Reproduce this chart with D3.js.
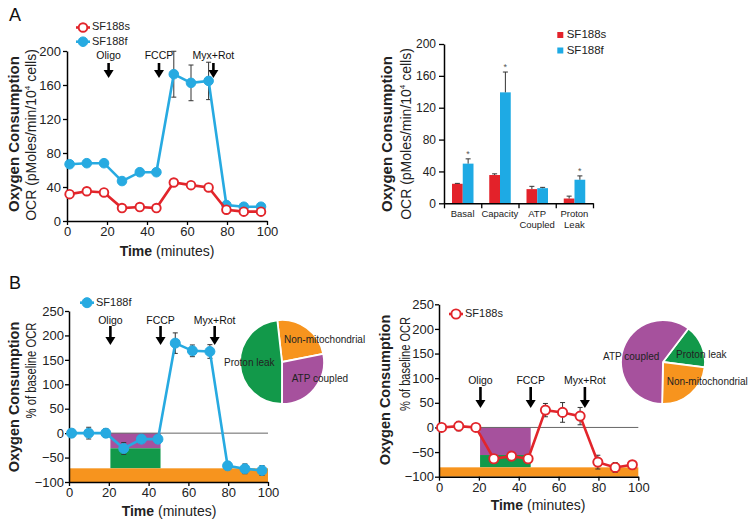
<!DOCTYPE html>
<html><head><meta charset="utf-8">
<script src="https://cdn.jsdelivr.net/npm/d3@7"></script>
<style>body{margin:0;background:#fff} svg{display:block}</style>
</head><body><svg id="c" width="754" height="526"></svg>
<script>
// ---------- DATA ----------
const times = [1.3, 9.9, 18.5, 27.5, 36.4, 44.7, 53.4, 62, 70.8, 79.7, 88.4, 97];
const xTicks = [0, 20, 40, 60, 80, 100];
const yTicksA = [0, 40, 80, 120, 160, 200];
const yTicksB = [-100, -50, 0, 50, 100, 150, 200, 250];
const seriesNames = ["SF188s", "SF188f"];
const ocrF = [66.8, 68, 68, 47, 57.4, 57.4, 172.7, 162.5, 164.8, 18.8, 16.8, 16.8];
const ocrFErr = [2, 2, 2, 2, 2, 2, 27, 21, 22, 2, 2, 2];
const ocrS = [31.6, 35, 33.6, 15.2, 16.4, 15.2, 45.3, 42.2, 39.5, 13.3, 11, 11];
const ocrSErr = [2, 2, 2, 2, 2, 2, 2, 2, 2, 2, 2, 2];
const injTimes = [20.8, 46, 73.2];
const injLabels = ["Oligo", "FCCP", "Myx+Rot"];
const barCats = ["Basal", "Capacity", "ATP Coupled", "Proton Leak"];
const barCatLines = [["Basal"], ["Capacity"], ["ATP", "Coupled"], ["Proton", "Leak"]];
const barS = [24.5, 35.5, 17.8, 6];
const barSErr = [0.5, 1.5, 3.5, 3];
const barF = [49.8, 139.3, 19, 29.6];
const barFErr = [6, 25.5, 1, 4.8];
const barStar = [true, true, false, true];
const pctF = [0, 0, 0, -31.4, -12.3, -12.3, 184.2, 168.5, 167.1, -66.9, -73, -76.4];
const pctFErr = [8, 12, 9, 12, 8, 8, 21, 12, 14, 8, 10, 10];
const pctS = [0, 2.7, 0, -63.6, -58.2, -63.6, 35.2, 30.5, 23, -70.4, -81.2, -75.8];
const pctSErr = [4, 9.5, 5, 8, 7, 6, 13.5, 20, 17.6, 14, 10, 8];
const bandLabels = ["ATP coupled", "Proton leak", "Non-mitochondrial"];
const bandsF = [[20.8, 46, 0, -31], [20.8, 46, -31, -72], [0, 100, -72, -100]];
const bandsS = [[20.6, 46, 0, -56], [20.6, 46, -56, -81], [0, 100, -81, -100]];
const pieLabelsF = ["Non-mitochondrial", "ATP coupled", "Proton leak"];
const pieValsF = [23.7, 28.1, 48.2];
const pieLabelsS = ["Proton leak", "Non-mitochondrial", "ATP coupled"];
const pieValsS = [16.7, 23.3, 60];

// ---------- STYLE ----------
const FONT = '"Liberation Sans", Arial, Helvetica, sans-serif';
const BLUE = "#27aae1", RED = "#e2252b", BARRED = "#e3222a", BARBLUE = "#1eaae4";
const segColor = {"ATP coupled": "#a6519d", "Proton leak": "#12994a", "Non-mitochondrial": "#f7941e"};
const svg = d3.select("#c");

function styleAxis(g, fs) {
  g.attr("font-family", FONT).attr("font-size", fs);
  g.select(".domain").attr("stroke", "#000").attr("stroke-width", 1.5);
  g.selectAll(".tick line").attr("stroke", "#000").attr("stroke-width", 1.3);
  g.selectAll(".tick text").attr("fill", "#222");
}
function vText(x, y, str, fs, bold, len) {
  const t = svg.append("text").attr("x", x).attr("y", y)
    .attr("transform", `rotate(-90,${x},${y})`).attr("text-anchor", "middle")
    .attr("font-family", FONT).attr("font-size", fs).attr("fill", "#222")
    .attr("font-weight", bold ? "bold" : "normal").text(str);
  if (len) t.attr("textLength", len).attr("lengthAdjust", "spacingAndGlyphs");
  return t;
}
function timeLabel(cx, cy) {
  const t = svg.append("text").attr("x", cx).attr("y", cy).attr("text-anchor", "middle")
    .attr("dominant-baseline", "middle").attr("font-family", FONT).attr("font-size", 14).attr("fill", "#222");
  t.append("tspan").attr("font-weight", "bold").text("Time");
  t.append("tspan").text(" (minutes)");
}
function arrows(x, labelY, y0, y1) {
  injTimes.forEach((t, i) => {
    const ax = x(t);
    svg.append("text").attr("x", ax).attr("y", labelY).attr("text-anchor", "middle")
      .attr("dominant-baseline", "middle").attr("font-family", FONT).attr("font-size", 10.5)
      .attr("fill", "#111").text(injLabels[i]);
    svg.append("line").attr("x1", ax).attr("x2", ax).attr("y1", y0).attr("y2", y1 - 6)
      .attr("stroke", "#000").attr("stroke-width", 2.6);
    svg.append("path").attr("d", `M${ax - 5},${y1 - 8}L${ax + 5},${y1 - 8}L${ax},${y1}Z`).attr("fill", "#000");
  });
}
function errBars(x, y, vals, errs, col) {
  const g = svg.append("g").attr("stroke", col).attr("stroke-width", 1);
  vals.forEach((v, i) => {
    const cx = x(times[i]);
    g.append("line").attr("x1", cx).attr("x2", cx).attr("y1", y(v - errs[i])).attr("y2", y(v + errs[i]));
    g.append("line").attr("x1", cx - 2.5).attr("x2", cx + 2.5).attr("y1", y(v + errs[i])).attr("y2", y(v + errs[i]));
    g.append("line").attr("x1", cx - 2.5).attr("x2", cx + 2.5).attr("y1", y(v - errs[i])).attr("y2", y(v - errs[i]));
  });
}
function series(x, y, vals, col, open, r) {
  const line = d3.line().x((d, i) => x(times[i])).y(d => y(d));
  svg.append("path").attr("d", line(vals)).attr("fill", "none").attr("stroke", col).attr("stroke-width", 2.6);
  svg.append("g").selectAll("circle").data(vals).join("circle")
    .attr("cx", (d, i) => x(times[i])).attr("cy", d => y(d)).attr("r", r)
    .attr("fill", open ? "#fff" : col).attr("stroke", col).attr("stroke-width", open ? 1.9 : 1);
}
function legendItem(x, y, name, col, open, r) {
  svg.append("line").attr("x1", x - 7).attr("x2", x + 7).attr("y1", y).attr("y2", y)
    .attr("stroke", col).attr("stroke-width", 2.6);
  svg.append("circle").attr("cx", x).attr("cy", y).attr("r", r)
    .attr("fill", open ? "#fff" : col).attr("stroke", col).attr("stroke-width", open ? 1.9 : 1);
  svg.append("text").attr("x", x + 9).attr("y", y).attr("dominant-baseline", "middle")
    .attr("font-family", FONT).attr("font-size", 11).attr("fill", "#222").text(name);
}
function panelLetter(x, y, s) {
  svg.append("text").attr("x", x).attr("y", y).attr("font-family", FONT).attr("font-size", 18)
    .attr("fill", "#111").text(s);
}

// ---------- PANEL A (left) ----------
panelLetter(9, 21, "A");
const xA = d3.scaleLinear([0, 100], [67, 267]);
const yA = d3.scaleLinear([0, 200], [221, 51]);
styleAxis(svg.append("g").attr("transform", `translate(0,${yA(0)})`)
  .call(d3.axisBottom(xA).tickValues(xTicks).tickSize(4).tickPadding(2).tickSizeOuter(0)), 13);
styleAxis(svg.append("g").attr("transform", `translate(${xA(0)},0)`)
  .call(d3.axisLeft(yA).tickValues(yTicksA).tickSize(4).tickPadding(2).tickSizeOuter(0)), 13);
arrows(xA, 56, 63, 78);
errBars(xA, yA, ocrF, ocrFErr, "#333");
errBars(xA, yA, ocrS, ocrSErr, "#333");
series(xA, yA, ocrF, BLUE, false, 4.8);
series(xA, yA, ocrS, RED, true, 4.3);
legendItem(83, 27.5, seriesNames[0], RED, true, 4.3);
legendItem(83, 41.7, seriesNames[1], BLUE, false, 4.8);
vText(18.5, 134, "Oxygen Consumption", 15, true);
{
  const t = vText(35.5, 135, "", 14, false);
  t.append("tspan").text("OCR (pMoles/min/10");
  t.append("tspan").attr("font-size", 8).attr("dy", -6).text("4");
  t.append("tspan").attr("dy", 6).text(" cells)");
}
timeLabel(167, 252);

// ---------- PANEL A (bars) ----------
const x0 = d3.scaleBand(barCats, [444, 593]);
const x1 = d3.scaleBand(seriesNames, [8, 29.5]);
const yBar = d3.scaleLinear([0, 200], [203.3, 44]);
const barData = barCats.map((c, i) => [
  {c, s: seriesNames[0], v: barS[i], e: barSErr[i], col: BARRED, star: false},
  {c, s: seriesNames[1], v: barF[i], e: barFErr[i], col: BARBLUE, star: barStar[i]}]).flat();
svg.append("g").selectAll("rect").data(barData).join("rect")
  .attr("x", d => x0(d.c) + x1(d.s)).attr("width", x1.bandwidth())
  .attr("y", d => yBar(d.v)).attr("height", d => yBar(0) - yBar(d.v)).attr("fill", d => d.col);
const eb = svg.append("g").attr("stroke", "#333").attr("stroke-width", 1);
barData.forEach(d => {
  const cx = x0(d.c) + x1(d.s) + x1.bandwidth() / 2;
  eb.append("line").attr("x1", cx).attr("x2", cx).attr("y1", yBar(d.v)).attr("y2", yBar(d.v + d.e));
  eb.append("line").attr("x1", cx - 2.5).attr("x2", cx + 2.5).attr("y1", yBar(d.v + d.e)).attr("y2", yBar(d.v + d.e));
  if (d.star) svg.append("text").attr("x", cx).attr("y", yBar(d.v + d.e) - 2).attr("text-anchor", "middle")
    .attr("font-family", FONT).attr("font-size", 9).attr("fill", "#555").text("*");
});
styleAxis(svg.append("g").attr("transform", `translate(${x0.range()[0]},0)`)
  .call(d3.axisLeft(yBar).tickValues(yTicksA).tickSize(5).tickPadding(3).tickSizeOuter(0)), 12);
const xB = d3.scaleLinear([0, barCats.length], x0.range());
styleAxis(svg.append("g").attr("transform", `translate(0,${yBar(0)})`)
  .call(d3.axisBottom(xB).ticks(barCats.length).tickSize(5).tickFormat("").tickSizeOuter(0)), 10);
barCatLines.forEach((lines, i) => {
  lines.forEach((ln, j) => svg.append("text").attr("x", x0(barCats[i]) + x0.bandwidth() / 2).attr("y", 214 + j * 11)
    .attr("text-anchor", "middle").attr("dominant-baseline", "middle").attr("font-family", FONT)
    .attr("font-size", 9.5).attr("fill", "#222").text(ln));
});
[[BARRED, seriesNames[0]], [BARBLUE, seriesNames[1]]].forEach(([col, nm], i) => {
  svg.append("rect").attr("x", 557.3).attr("y", 32 + i * 15.5).attr("width", 6).attr("height", 6).attr("fill", col);
  svg.append("text").attr("x", 566.7).attr("y", 35 + i * 15.5).attr("dominant-baseline", "middle")
    .attr("font-family", FONT).attr("font-size", 11.5).attr("fill", "#222").text(nm);
});
vText(392, 134, "Oxygen Consumption", 15, true);
{
  const t = vText(410.5, 134, "", 14, false);
  t.append("tspan").text("OCR (pMoles/min/10");
  t.append("tspan").attr("font-size", 8).attr("dy", -6).text("4");
  t.append("tspan").attr("dy", 6).text(" cells)");
}

// ---------- PANEL B ----------
function panelB(x, y, bands, vals, errs, col, open, r, name, legX, legY, arrowY) {
  const segs = bandLabels.map((lab, i) => ({lab, b: bands[i]}));
  svg.append("g").selectAll("rect").data(segs).join("rect")
    .attr("x", d => x(d.b[0])).attr("width", d => x(d.b[1]) - x(d.b[0]))
    .attr("y", d => y(d.b[2])).attr("height", d => y(d.b[3]) - y(d.b[2]))
    .attr("fill", d => segColor[d.lab]);
  svg.append("line").attr("x1", x(0)).attr("x2", x(100)).attr("y1", y(0)).attr("y2", y(0))
    .attr("stroke", "#666").attr("stroke-width", 1);
  styleAxis(svg.append("g").attr("transform", `translate(0,${y(-100)})`)
    .call(d3.axisBottom(x).tickValues(xTicks).tickSize(4).tickPadding(2).tickSizeOuter(0)), 13);
  styleAxis(svg.append("g").attr("transform", `translate(${x(0)},0)`)
    .call(d3.axisLeft(y).tickValues(yTicksB).tickSize(4).tickPadding(1).tickSizeOuter(0)), 13);
  arrows(x, arrowY[0], arrowY[1], arrowY[2]);
  errBars(x, y, vals, errs, "#333");
  series(x, y, vals, col, open, r);
  legendItem(legX, legY, name, col, open, r);
}
function pie(cx, cy, labels, vals, a0, labelPos) {
  const data = labels.map((l, i) => ({l, v: vals[i]}));
  const arcs = d3.pie().sort(null).value(d => d.v).startAngle(a0).endAngle(a0 + 2 * Math.PI)(data);
  const arc = d3.arc().innerRadius(0).outerRadius(42);
  const g = svg.append("g").attr("transform", `translate(${cx},${cy})`);
  g.selectAll("path").data(arcs).join("path").attr("d", arc)
    .attr("fill", d => segColor[d.data.l]).attr("stroke", "#fff").attr("stroke-width", 1.8);
  data.forEach((d, i) => g.append("text").attr("x", labelPos[i][0]).attr("y", labelPos[i][1])
    .attr("dominant-baseline", "middle").attr("font-family", FONT).attr("font-size", 10)
    .attr("fill", "#222").text(d.l));
}

panelLetter(9, 289, "B");
const xBL = d3.scaleLinear([0, 100], [69, 268]);
const yBL = d3.scaleLinear([-100, 250], [482, 311]);
panelB(xBL, yBL, bandsF, pctF, pctFErr, BLUE, false, 5, seriesNames[1], 87, 302.7, [321, 326, 345]);
vText(18.5, 397, "Oxygen Consumption", 14.5, true);
vText(35.5, 370.5, "% of baseline OCR", 14, false, 96);
timeLabel(169, 512);
pie(282, 362, pieLabelsF, pieValsF, -6.4 * Math.PI / 180, [[2, -21.5], [9.7, 17.3], [-58, 1]]);

const xBR = d3.scaleLinear([0, 100], [439, 638.3]);
const yBR = d3.scaleLinear([-100, 250], [476.7, 304.3]);
panelB(xBR, yBR, bandsS, pctS, pctSErr, RED, true, 4.6, seriesNames[0], 456, 314, [381.7, 387, 408]);
vText(390, 390, "Oxygen Consumption", 14.5, true);
vText(410, 364, "% of baseline OCR", 14, false, 94);
timeLabel(538, 506);
pie(663, 362, pieLabelsS, pieValsS, 37.2 * Math.PI / 180, [[13, -7], [3.7, 20.3], [-60, -4.7]]);
</script></body></html>
